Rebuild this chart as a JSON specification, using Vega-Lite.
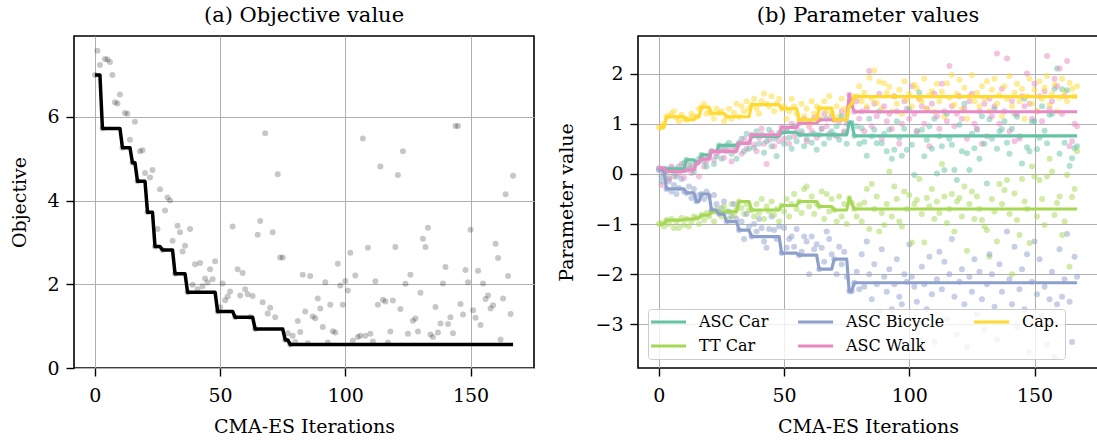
{
  "$schema": "https://vega.github.io/schema/vega-lite/v6.json",
  "padding": {"left": 9, "top": 4, "right": 0, "bottom": 0},
  "spacing": 104,
  "bounds": "flush",
  "config": {
    "font": "DejaVu Serif",
    "view": {"stroke": "black", "strokeWidth": 1.6},
    "style": {"guide-label": {"font": "DejaVu Serif"}, "guide-title": {"font": "DejaVu Serif"}},
    "axis": {"grid": true, "gridColor": "#b0b0b0", "gridWidth": 1, "domain": false, "tickColor": "black", "tickSize": 8, "tickWidth": 1.4, "labelFont": "DejaVu Serif", "labelFontSize": 19, "labelColor": "black", "labelPadding": 7, "labelFlush": false, "titleFont": "DejaVu Serif", "titleFontSize": 19, "titleFontWeight": "normal", "titleColor": "black"},
    "axisX": {"labelPadding": 10},
    "legend": {"labelFont": "DejaVu Serif", "titleFont": "DejaVu Serif"},
    "title": {"font": "DejaVu Serif", "fontSize": 21, "fontWeight": "normal", "color": "black", "offset": 10}
  },
  "datasets": {
    "pts": [
{"i":0,"obj":7.00,"car":0.10,"tt":-1.00,"bic":0.08,"walk":0.12,"cap":0.93},
{"i":1,"obj":7.58,"car":-0.15,"tt":-0.98,"bic":-0.05,"walk":-0.22,"cap":0.92},
{"i":2,"obj":7.24,"car":0.00,"tt":-1.05,"bic":0.10,"walk":0.05,"cap":1.00},
{"i":3,"obj":5.72,"car":0.10,"tt":-0.92,"bic":-0.30,"walk":0.05,"cap":1.14},
{"i":4,"obj":7.38,"car":-0.08,"tt":-1.00,"bic":-0.15,"walk":-0.10,"cap":1.15},
{"i":5,"obj":7.37,"car":0.12,"tt":-0.90,"bic":-0.35,"walk":0.15,"cap":1.20},
{"i":6,"obj":7.31,"car":0.02,"tt":-1.08,"bic":-0.22,"walk":-0.05,"cap":1.25},
{"i":7,"obj":7.00,"car":-0.05,"tt":-0.95,"bic":-0.40,"walk":0.10,"cap":1.12},
{"i":8,"obj":6.35,"car":0.15,"tt":-1.08,"bic":-0.28,"walk":0.00,"cap":1.05},
{"i":9,"obj":6.32,"car":0.08,"tt":-0.88,"bic":-0.10,"walk":0.20,"cap":1.18},
{"i":10,"obj":6.53,"car":0.22,"tt":-1.02,"bic":-0.35,"walk":-0.08,"cap":1.10},
{"i":11,"obj":5.26,"car":0.28,"tt":-0.90,"bic":-0.38,"walk":0.08,"cap":1.08},
{"i":12,"obj":6.09,"car":0.10,"tt":-1.05,"bic":-0.25,"walk":0.18,"cap":1.10},
{"i":13,"obj":6.07,"car":0.18,"tt":-0.95,"bic":-0.48,"walk":0.02,"cap":1.20},
{"i":14,"obj":5.45,"car":0.05,"tt":-0.85,"bic":-0.30,"walk":0.12,"cap":1.15},
{"i":15,"obj":4.90,"car":0.22,"tt":-0.88,"bic":-0.55,"walk":0.22,"cap":1.14},
{"i":16,"obj":5.88,"car":0.30,"tt":-1.00,"bic":-0.42,"walk":-0.05,"cap":1.30},
{"i":17,"obj":4.46,"car":0.38,"tt":-0.82,"bic":-0.40,"walk":0.30,"cap":1.33},
{"i":18,"obj":5.18,"car":0.25,"tt":-0.92,"bic":-0.50,"walk":0.15,"cap":1.40},
{"i":19,"obj":5.20,"car":0.15,"tt":-0.78,"bic":-0.35,"walk":0.25,"cap":1.20},
{"i":20,"obj":4.66,"car":0.32,"tt":-0.85,"bic":-0.45,"walk":0.35,"cap":1.25},
{"i":21,"obj":3.72,"car":0.45,"tt":-0.76,"bic":-0.72,"walk":0.45,"cap":1.21},
{"i":22,"obj":4.55,"car":0.20,"tt":-0.95,"bic":-0.42,"walk":0.28,"cap":1.10},
{"i":23,"obj":4.73,"car":0.35,"tt":-0.70,"bic":-0.60,"walk":0.40,"cap":1.30},
{"i":24,"obj":2.90,"car":0.57,"tt":-0.76,"bic":-0.80,"walk":0.45,"cap":1.21},
{"i":25,"obj":3.32,"car":0.30,"tt":-0.85,"bic":-0.68,"walk":0.48,"cap":1.25},
{"i":26,"obj":4.27,"car":0.48,"tt":-0.65,"bic":-0.55,"walk":0.32,"cap":1.05},
{"i":27,"obj":2.82,"car":0.57,"tt":-0.75,"bic":-0.95,"walk":0.45,"cap":1.14},
{"i":28,"obj":3.76,"car":0.62,"tt":-0.90,"bic":-0.75,"walk":0.52,"cap":1.30},
{"i":29,"obj":4.07,"car":0.40,"tt":-0.60,"bic":-0.85,"walk":0.25,"cap":1.10},
{"i":30,"obj":4.00,"car":0.55,"tt":-0.82,"bic":-0.60,"walk":0.45,"cap":1.22},
{"i":31,"obj":3.04,"car":0.30,"tt":-0.70,"bic":-0.90,"walk":0.55,"cap":1.40},
{"i":32,"obj":2.25,"car":0.61,"tt":-0.55,"bic":-1.12,"walk":0.61,"cap":1.14},
{"i":33,"obj":3.40,"car":0.70,"tt":-0.68,"bic":-0.95,"walk":0.40,"cap":1.35},
{"i":34,"obj":3.24,"car":0.45,"tt":-0.80,"bic":-1.30,"walk":0.70,"cap":1.25},
{"i":35,"obj":2.78,"car":0.80,"tt":-0.60,"bic":-0.80,"walk":0.50,"cap":1.45},
{"i":36,"obj":2.92,"car":0.50,"tt":-0.72,"bic":-1.05,"walk":0.62,"cap":1.30},
{"i":37,"obj":1.81,"car":0.75,"tt":-0.72,"bic":-1.25,"walk":0.78,"cap":1.38},
{"i":38,"obj":3.32,"car":0.52,"tt":-0.85,"bic":-1.00,"walk":0.58,"cap":1.50},
{"i":39,"obj":1.99,"car":0.85,"tt":-0.60,"bic":-1.15,"walk":0.45,"cap":1.30},
{"i":40,"obj":2.48,"car":0.60,"tt":-0.78,"bic":-0.90,"walk":0.72,"cap":1.20},
{"i":41,"obj":1.88,"car":0.78,"tt":-0.50,"bic":-1.08,"walk":0.90,"cap":1.45},
{"i":42,"obj":2.51,"car":0.42,"tt":-0.90,"bic":-1.35,"walk":0.60,"cap":1.60},
{"i":43,"obj":1.95,"car":0.65,"tt":-0.65,"bic":-1.47,"walk":0.20,"cap":1.40},
{"i":44,"obj":2.14,"car":0.88,"tt":-0.75,"bic":-1.10,"walk":0.68,"cap":1.35},
{"i":45,"obj":2.04,"car":0.55,"tt":-0.55,"bic":-0.85,"walk":0.82,"cap":1.55},
{"i":46,"obj":2.36,"car":0.70,"tt":-0.82,"bic":-1.12,"walk":0.55,"cap":1.25},
{"i":47,"obj":2.12,"car":0.35,"tt":-0.70,"bic":-1.30,"walk":0.75,"cap":1.40},
{"i":48,"obj":2.55,"car":0.82,"tt":-0.95,"bic":-1.05,"walk":0.65,"cap":1.50},
{"i":49,"obj":1.35,"car":0.83,"tt":-0.63,"bic":-1.58,"walk":0.93,"cap":1.30},
{"i":50,"obj":1.45,"car":0.60,"tt":-0.75,"bic":-1.08,"walk":0.70,"cap":1.35},
{"i":51,"obj":2.02,"car":0.90,"tt":-0.50,"bic":-1.47,"walk":0.85,"cap":1.10},
{"i":52,"obj":1.62,"car":0.72,"tt":-0.85,"bic":-1.30,"walk":0.60,"cap":1.25},
{"i":53,"obj":1.71,"car":0.50,"tt":-0.60,"bic":-1.25,"walk":1.00,"cap":1.50},
{"i":54,"obj":1.83,"car":0.95,"tt":-0.40,"bic":-1.45,"walk":0.75,"cap":1.35},
{"i":55,"obj":3.38,"car":0.65,"tt":-0.70,"bic":-1.10,"walk":0.90,"cap":1.20},
{"i":56,"obj":1.21,"car":0.78,"tt":-0.55,"bic":-1.62,"walk":1.01,"cap":1.08},
{"i":57,"obj":2.36,"car":0.85,"tt":-0.78,"bic":-1.55,"walk":0.80,"cap":1.40},
{"i":58,"obj":1.73,"car":0.55,"tt":-0.30,"bic":-1.25,"walk":1.10,"cap":1.15},
{"i":59,"obj":2.27,"car":0.70,"tt":-0.25,"bic":-1.35,"walk":0.65,"cap":1.30},
{"i":60,"obj":1.88,"car":1.05,"tt":-0.65,"bic":-2.00,"walk":0.95,"cap":1.00},
{"i":61,"obj":1.76,"car":0.62,"tt":-0.45,"bic":-1.25,"walk":0.85,"cap":1.45},
{"i":62,"obj":1.22,"car":0.80,"tt":-0.80,"bic":-1.50,"walk":1.12,"cap":1.20},
{"i":63,"obj":1.72,"car":0.48,"tt":-0.60,"bic":-1.40,"walk":0.72,"cap":1.35},
{"i":64,"obj":0.93,"car":0.78,"tt":-0.65,"bic":-1.90,"walk":1.08,"cap":1.31},
{"i":65,"obj":3.18,"car":0.90,"tt":-0.35,"bic":-1.47,"walk":0.90,"cap":1.10},
{"i":66,"obj":3.51,"car":0.60,"tt":-0.90,"bic":-1.75,"walk":1.20,"cap":1.45},
{"i":67,"obj":1.57,"car":1.10,"tt":-0.40,"bic":-1.15,"walk":0.95,"cap":1.25},
{"i":68,"obj":5.61,"car":0.72,"tt":-0.75,"bic":-1.30,"walk":0.80,"cap":1.55},
{"i":69,"obj":1.30,"car":0.85,"tt":-0.50,"bic":-1.60,"walk":1.15,"cap":1.20},
{"i":70,"obj":1.44,"car":0.78,"tt":-0.72,"bic":-1.70,"walk":1.08,"cap":1.08},
{"i":71,"obj":3.24,"car":0.95,"tt":-0.95,"bic":-2.00,"walk":0.75,"cap":1.35},
{"i":72,"obj":1.21,"car":0.68,"tt":-0.45,"bic":-1.45,"walk":1.05,"cap":1.15},
{"i":73,"obj":4.63,"car":1.15,"tt":-0.85,"bic":-1.80,"walk":1.25,"cap":1.50},
{"i":74,"obj":2.64,"car":0.82,"tt":-0.60,"bic":-1.55,"walk":0.85,"cap":1.30},
{"i":75,"obj":2.64,"car":0.60,"tt":-1.00,"bic":-2.05,"walk":1.00,"cap":1.20},
{"i":76,"obj":0.67,"car":1.02,"tt":-0.48,"bic":-2.34,"walk":1.58,"cap":1.35},
{"i":77,"obj":0.83,"car":1.02,"tt":-0.58,"bic":-2.34,"walk":1.38,"cap":1.40},
{"i":78,"obj":0.56,"car":0.76,"tt":-0.70,"bic":-2.17,"walk":1.24,"cap":1.54},
{"i":79,"obj":0.77,"car":0.95,"tt":-0.85,"bic":-1.95,"walk":1.45,"cap":1.55},
{"i":80,"obj":0.62,"car":0.60,"tt":-0.62,"bic":-2.30,"walk":1.10,"cap":1.75},
{"i":81,"obj":1.12,"car":0.91,"tt":-0.95,"bic":-1.60,"walk":1.25,"cap":1.45},
{"i":82,"obj":0.86,"car":0.64,"tt":-0.57,"bic":-2.25,"walk":0.85,"cap":1.62},
{"i":83,"obj":2.23,"car":0.36,"tt":-0.30,"bic":-1.35,"walk":1.30,"cap":1.35},
{"i":84,"obj":1.35,"car":1.10,"tt":-1.10,"bic":-2.00,"walk":2.05,"cap":1.92},
{"i":85,"obj":0.59,"car":0.75,"tt":-0.20,"bic":-2.50,"walk":0.95,"cap":1.50},
{"i":86,"obj":2.20,"car":0.88,"tt":-0.70,"bic":-1.80,"walk":1.40,"cap":2.06},
{"i":87,"obj":1.23,"car":0.61,"tt":-0.45,"bic":-2.20,"walk":1.15,"cap":1.42},
{"i":88,"obj":1.19,"car":1.25,"tt":-1.15,"bic":-2.75,"walk":1.60,"cap":1.84},
{"i":89,"obj":1.66,"car":0.61,"tt":-0.78,"bic":-1.50,"walk":0.70,"cap":1.30},
{"i":90,"obj":1.42,"car":0.80,"tt":-1.02,"bic":-2.05,"walk":1.35,"cap":1.81},
{"i":91,"obj":0.98,"car":0.45,"tt":-0.60,"bic":-2.35,"walk":1.05,"cap":1.62},
{"i":92,"obj":2.05,"car":0.88,"tt":0.05,"bic":-1.90,"walk":1.20,"cap":1.74},
{"i":93,"obj":0.61,"car":0.30,"tt":-0.85,"bic":-2.70,"walk":0.90,"cap":1.25},
{"i":94,"obj":1.51,"car":0.48,"tt":-0.25,"bic":-2.20,"walk":1.55,"cap":1.55},
{"i":95,"obj":0.88,"car":1.05,"tt":-0.50,"bic":-1.70,"walk":1.25,"cap":1.40},
{"i":96,"obj":0.85,"car":0.72,"tt":-0.95,"bic":-2.45,"walk":0.60,"cap":1.68},
{"i":97,"obj":2.49,"car":0.36,"tt":-1.05,"bic":-2.60,"walk":1.00,"cap":1.20},
{"i":98,"obj":1.97,"car":0.90,"tt":-0.35,"bic":-2.00,"walk":1.45,"cap":1.85},
{"i":99,"obj":1.51,"car":0.48,"tt":-0.70,"bic":-2.15,"walk":1.30,"cap":1.47},
{"i":100,"obj":2.08,"car":1.30,"tt":-0.42,"bic":-1.40,"walk":1.10,"cap":1.60},
{"i":101,"obj":1.85,"car":0.58,"tt":-1.37,"bic":-2.05,"walk":1.75,"cap":1.35},
{"i":102,"obj":2.75,"car":-0.02,"tt":-0.60,"bic":-2.25,"walk":1.20,"cap":1.78},
{"i":103,"obj":0.65,"car":0.85,"tt":-0.52,"bic":-2.55,"walk":0.85,"cap":1.71},
{"i":104,"obj":2.21,"car":1.62,"tt":-0.10,"bic":-3.00,"walk":1.50,"cap":1.50},
{"i":105,"obj":0.74,"car":0.88,"tt":-0.80,"bic":-1.85,"walk":1.35,"cap":1.44},
{"i":106,"obj":0.77,"car":0.35,"tt":-1.37,"bic":-2.20,"walk":1.00,"cap":1.90},
{"i":107,"obj":5.48,"car":0.68,"tt":-0.48,"bic":-2.70,"walk":1.30,"cap":1.30},
{"i":108,"obj":0.77,"car":0.95,"tt":-0.65,"bic":-1.65,"walk":0.55,"cap":1.57},
{"i":109,"obj":2.87,"car":0.50,"tt":-0.30,"bic":-2.40,"walk":1.40,"cap":1.65},
{"i":110,"obj":0.82,"car":1.10,"tt":-0.90,"bic":-3.35,"walk":1.60,"cap":1.24},
{"i":111,"obj":0.63,"car":0.01,"tt":-0.55,"bic":-2.10,"walk":1.15,"cap":1.80},
{"i":112,"obj":2.07,"car":0.75,"tt":-0.78,"bic":-1.55,"walk":0.90,"cap":1.45},
{"i":113,"obj":1.51,"car":0.55,"tt":0.20,"bic":-2.30,"walk":1.80,"cap":1.64},
{"i":114,"obj":4.81,"car":0.08,"tt":-0.45,"bic":-1.75,"walk":1.25,"cap":1.14},
{"i":115,"obj":1.63,"car":1.20,"tt":-0.98,"bic":-2.90,"walk":1.05,"cap":1.81},
{"i":116,"obj":1.59,"car":0.70,"tt":-0.70,"bic":-2.00,"walk":2.15,"cap":1.52},
{"i":117,"obj":0.61,"car":0.58,"tt":-0.40,"bic":-1.30,"walk":1.35,"cap":1.97},
{"i":118,"obj":0.87,"car":0.08,"tt":-1.15,"bic":-2.45,"walk":0.95,"cap":1.38},
{"i":119,"obj":1.61,"car":-0.12,"tt":-0.55,"bic":-3.20,"walk":1.20,"cap":1.60},
{"i":120,"obj":2.89,"car":0.98,"tt":-0.48,"bic":-2.15,"walk":1.55,"cap":1.88},
{"i":121,"obj":4.61,"car":0.45,"tt":-0.85,"bic":-1.90,"walk":1.10,"cap":1.30},
{"i":122,"obj":1.41,"car":1.40,"tt":-0.25,"bic":-2.60,"walk":1.30,"cap":1.72},
{"i":123,"obj":5.18,"car":0.41,"tt":-1.53,"bic":-3.45,"walk":0.70,"cap":1.10},
{"i":124,"obj":2.01,"car":0.08,"tt":-0.60,"bic":-2.05,"walk":1.45,"cap":1.55},
{"i":125,"obj":0.82,"car":0.80,"tt":-0.35,"bic":-2.35,"walk":1.60,"cap":1.97},
{"i":126,"obj":2.23,"car":0.51,"tt":-0.90,"bic":-1.70,"walk":1.00,"cap":1.45},
{"i":127,"obj":1.13,"car":0.88,"tt":-0.45,"bic":-2.80,"walk":0.90,"cap":1.62},
{"i":128,"obj":1.18,"car":0.30,"tt":-0.70,"bic":-1.95,"walk":1.25,"cap":1.35},
{"i":129,"obj":0.87,"car":1.15,"tt":-0.92,"bic":-2.50,"walk":0.60,"cap":1.75},
{"i":130,"obj":1.80,"car":0.60,"tt":-1.05,"bic":-3.10,"walk":1.40,"cap":1.50},
{"i":131,"obj":3.09,"car":-0.19,"tt":-1.12,"bic":-2.20,"walk":0.75,"cap":1.85},
{"i":132,"obj":2.89,"car":1.09,"tt":-1.65,"bic":-1.60,"walk":1.50,"cap":1.25},
{"i":133,"obj":3.35,"car":0.70,"tt":-0.50,"bic":-2.00,"walk":1.15,"cap":1.68},
{"i":134,"obj":0.80,"car":1.30,"tt":-0.75,"bic":-2.65,"walk":1.35,"cap":1.90},
{"i":135,"obj":0.74,"car":0.50,"tt":-1.35,"bic":-3.30,"walk":2.40,"cap":1.40},
{"i":136,"obj":1.46,"car":0.85,"tt":-0.20,"bic":-1.80,"walk":1.00,"cap":1.58},
{"i":137,"obj":0.85,"car":0.89,"tt":-0.60,"bic":-2.35,"walk":1.70,"cap":1.15},
{"i":138,"obj":1.06,"car":1.05,"tt":-0.32,"bic":-2.95,"walk":1.25,"cap":1.75},
{"i":139,"obj":2.02,"car":0.62,"tt":-0.12,"bic":-1.15,"walk":2.30,"cap":1.50},
{"i":140,"obj":2.41,"car":0.40,"tt":-0.80,"bic":-2.10,"walk":0.85,"cap":1.95},
{"i":141,"obj":1.05,"car":0.90,"tt":-2.00,"bic":-2.60,"walk":1.45,"cap":1.35},
{"i":142,"obj":1.21,"car":1.20,"tt":-0.39,"bic":-1.45,"walk":0.65,"cap":1.62},
{"i":143,"obj":0.83,"car":1.14,"tt":-0.92,"bic":-3.05,"walk":1.20,"cap":1.80},
{"i":144,"obj":5.78,"car":0.75,"tt":-1.22,"bic":-2.30,"walk":0.70,"cap":1.45},
{"i":145,"obj":5.78,"car":0.21,"tt":-0.10,"bic":-1.90,"walk":1.55,"cap":1.70},
{"i":146,"obj":1.53,"car":1.50,"tt":-0.55,"bic":-2.70,"walk":1.35,"cap":1.10},
{"i":147,"obj":1.28,"car":0.53,"tt":-0.70,"bic":-1.60,"walk":2.00,"cap":1.55},
{"i":148,"obj":2.34,"car":0.45,"tt":-1.38,"bic":-3.55,"walk":1.40,"cap":1.90},
{"i":149,"obj":2.05,"car":1.04,"tt":0.15,"bic":-2.15,"walk":1.10,"cap":1.40},
{"i":150,"obj":3.30,"car":1.05,"tt":-0.05,"bic":-1.35,"walk":1.80,"cap":1.68},
{"i":151,"obj":1.38,"car":0.49,"tt":-0.85,"bic":-2.40,"walk":1.25,"cap":1.25},
{"i":152,"obj":1.20,"car":0.72,"tt":-0.12,"bic":-1.70,"walk":1.55,"cap":1.85},
{"i":153,"obj":2.32,"car":1.35,"tt":-0.50,"bic":-2.85,"walk":1.05,"cap":1.50},
{"i":154,"obj":1.03,"car":0.86,"tt":-1.02,"bic":-2.25,"walk":1.65,"cap":1.72},
{"i":155,"obj":2.02,"car":0.61,"tt":-0.05,"bic":-3.40,"walk":2.35,"cap":1.95},
{"i":156,"obj":1.65,"car":1.18,"tt":0.30,"bic":-2.50,"walk":1.30,"cap":1.38},
{"i":157,"obj":1.73,"car":1.20,"tt":0.05,"bic":-1.95,"walk":1.45,"cap":1.60},
{"i":158,"obj":1.42,"car":1.70,"tt":-0.82,"bic":-3.65,"walk":1.90,"cap":1.78},
{"i":159,"obj":1.50,"car":2.10,"tt":-0.58,"bic":-2.60,"walk":1.75,"cap":1.25},
{"i":160,"obj":2.97,"car":0.40,"tt":-0.45,"bic":-1.50,"walk":2.10,"cap":1.52},
{"i":161,"obj":2.63,"car":1.69,"tt":-1.22,"bic":-2.45,"walk":1.20,"cap":1.90},
{"i":162,"obj":0.68,"car":0.62,"tt":-0.95,"bic":-2.10,"walk":1.55,"cap":1.65},
{"i":163,"obj":1.66,"car":1.67,"tt":-0.02,"bic":-1.20,"walk":2.25,"cap":1.45},
{"i":164,"obj":4.15,"car":0.16,"tt":-1.85,"bic":-2.55,"walk":0.55,"cap":1.82},
{"i":165,"obj":2.20,"car":0.31,"tt":-0.46,"bic":-3.35,"walk":0.65,"cap":1.70},
{"i":166,"obj":1.29,"car":0.51,"tt":-0.30,"bic":-1.65,"walk":1.00,"cap":1.55},
{"i":167,"obj":4.59,"car":0.55,"tt":0.45,"bic":-2.05,"walk":0.95,"cap":1.75}
    ],
    "best": [
{"i":0,"obj":7.00,"car":0.10,"tt":-1.00,"bic":0.08,"walk":0.12,"cap":0.93},
{"i":2,"obj":7.00,"car":0.10,"tt":-1.00,"bic":0.08,"walk":0.12,"cap":0.93},
{"i":3,"obj":5.72,"car":0.10,"tt":-0.92,"bic":-0.30,"walk":0.05,"cap":1.14},
{"i":10,"obj":5.72,"car":0.10,"tt":-0.92,"bic":-0.30,"walk":0.05,"cap":1.14},
{"i":11,"obj":5.26,"car":0.28,"tt":-0.90,"bic":-0.38,"walk":0.08,"cap":1.08},
{"i":14,"obj":5.26,"car":0.28,"tt":-0.90,"bic":-0.38,"walk":0.08,"cap":1.08},
{"i":15,"obj":4.90,"car":0.22,"tt":-0.88,"bic":-0.55,"walk":0.22,"cap":1.14},
{"i":16,"obj":4.90,"car":0.22,"tt":-0.88,"bic":-0.55,"walk":0.22,"cap":1.14},
{"i":17,"obj":4.46,"car":0.38,"tt":-0.82,"bic":-0.40,"walk":0.30,"cap":1.33},
{"i":20,"obj":4.46,"car":0.38,"tt":-0.82,"bic":-0.40,"walk":0.30,"cap":1.33},
{"i":21,"obj":3.72,"car":0.45,"tt":-0.76,"bic":-0.72,"walk":0.45,"cap":1.21},
{"i":23,"obj":3.72,"car":0.45,"tt":-0.76,"bic":-0.72,"walk":0.45,"cap":1.21},
{"i":24,"obj":2.90,"car":0.57,"tt":-0.76,"bic":-0.80,"walk":0.45,"cap":1.21},
{"i":26,"obj":2.90,"car":0.57,"tt":-0.76,"bic":-0.80,"walk":0.45,"cap":1.21},
{"i":27,"obj":2.82,"car":0.57,"tt":-0.75,"bic":-0.95,"walk":0.45,"cap":1.14},
{"i":31,"obj":2.82,"car":0.57,"tt":-0.75,"bic":-0.95,"walk":0.45,"cap":1.14},
{"i":32,"obj":2.25,"car":0.61,"tt":-0.55,"bic":-1.12,"walk":0.61,"cap":1.14},
{"i":36,"obj":2.25,"car":0.61,"tt":-0.55,"bic":-1.12,"walk":0.61,"cap":1.14},
{"i":37,"obj":1.81,"car":0.75,"tt":-0.72,"bic":-1.25,"walk":0.78,"cap":1.38},
{"i":48,"obj":1.81,"car":0.75,"tt":-0.72,"bic":-1.25,"walk":0.78,"cap":1.38},
{"i":49,"obj":1.35,"car":0.83,"tt":-0.63,"bic":-1.58,"walk":0.93,"cap":1.30},
{"i":55,"obj":1.35,"car":0.83,"tt":-0.63,"bic":-1.58,"walk":0.93,"cap":1.30},
{"i":56,"obj":1.21,"car":0.78,"tt":-0.55,"bic":-1.62,"walk":1.01,"cap":1.08},
{"i":63,"obj":1.21,"car":0.78,"tt":-0.55,"bic":-1.62,"walk":1.01,"cap":1.08},
{"i":64,"obj":0.93,"car":0.78,"tt":-0.65,"bic":-1.90,"walk":1.08,"cap":1.31},
{"i":69,"obj":0.93,"car":0.78,"tt":-0.65,"bic":-1.90,"walk":1.08,"cap":1.31},
{"i":70,"obj":0.93,"car":0.78,"tt":-0.72,"bic":-1.70,"walk":1.08,"cap":1.08},
{"i":75,"obj":0.93,"car":0.78,"tt":-0.72,"bic":-1.70,"walk":1.08,"cap":1.08},
{"i":76,"obj":0.67,"car":1.02,"tt":-0.48,"bic":-2.34,"walk":1.58,"cap":1.35},
{"i":77,"obj":0.67,"car":1.02,"tt":-0.58,"bic":-2.34,"walk":1.38,"cap":1.40},
{"i":78,"obj":0.56,"car":0.76,"tt":-0.70,"bic":-2.17,"walk":1.24,"cap":1.54},
{"i":167,"obj":0.56,"car":0.76,"tt":-0.70,"bic":-2.17,"walk":1.24,"cap":1.54}
    ]
  },
  "hconcat": [
    {
      "width": 460,
      "height": 332,
      "title": {"text": "(a) Objective value"},
      "layer": [
        {
          "data": {"name": "pts"},
          "mark": {"type": "circle", "color": "black", "opacity": 0.22, "size": 36},
          "encoding": {
            "x": {"field": "i", "type": "quantitative", "scale": {"domain": [-8.35, 175.35], "nice": false, "zero": false}, "axis": {"values": [0, 50, 100, 150], "title": "CMA-ES Iterations", "titleX": 230, "titleY": 58.5, "titleBaseline": "middle"}},
            "y": {"field": "obj", "type": "quantitative", "scale": {"domain": [0, 7.93], "nice": false}, "axis": {"values": [0, 2, 4, 6], "title": "Objective", "titleX": -55, "titleY": 166, "titleBaseline": "middle"}}
          }
        },
        {
          "data": {"name": "best"},
          "mark": {"type": "line", "color": "black", "strokeWidth": 3.5, "strokeJoin": "round"},
          "encoding": {
            "x": {"field": "i", "type": "quantitative"},
            "y": {"field": "obj", "type": "quantitative"}
          }
        }
      ]
    },
    {
      "width": 460,
      "height": 332,
      "title": {"text": "(b) Parameter values"},
      "resolve": {"scale": {"color": "independent"}},
      "layer": [
        {
          "data": {"name": "pts"},
          "transform": [{"fold": ["car", "tt", "bic", "walk", "cap"], "as": ["param", "value"]}],
          "mark": {"type": "circle", "opacity": 0.5, "size": 36},
          "encoding": {
            "x": {"field": "i", "type": "quantitative", "scale": {"domain": [-8.35, 175.35], "nice": false, "zero": false}, "axis": {"values": [0, 50, 100, 150], "title": "CMA-ES Iterations", "titleX": 230, "titleY": 58.5, "titleBaseline": "middle"}},
            "y": {"field": "value", "type": "quantitative", "scale": {"domain": [-3.87, 2.75], "nice": false, "zero": false}, "axis": {"values": [-3, -2, -1, 0, 1, 2], "title": "Parameter value", "titleX": -72, "titleY": 166, "titleBaseline": "middle"}},
            "color": {"field": "param", "type": "nominal", "scale": {"domain": ["car", "tt", "bic", "walk", "cap"], "range": ["#66c2a5", "#a6d854", "#8da0cb", "#e78ac3", "#ffd92f"]}, "legend": null}
          }
        },
        {
          "data": {"name": "best"},
          "transform": [{"fold": ["car", "tt", "bic", "walk", "cap"], "as": ["param", "value"]}],
          "mark": {"type": "line", "strokeWidth": 3.2, "strokeJoin": "round"},
          "encoding": {
            "x": {"field": "i", "type": "quantitative"},
            "y": {"field": "value", "type": "quantitative"},
            "color": {
              "field": "param", "type": "nominal",
              "scale": {"domain": ["car", "tt", "bic", "walk", "cap"], "range": ["#66c2a5", "#a6d854", "#8da0cb", "#e78ac3", "#ffd92f"]},
              "legend": {
                "orient": "none", "legendX": 10, "legendY": 273, "columns": 3, "title": null,
                "labelExpr": "{'car': 'ASC Car', 'bic': 'ASC Bicycle', 'cap': 'Cap.', 'tt': 'TT Car', 'walk': 'ASC Walk'}[datum.label]",
                "symbolType": "M-1.7,0H4.3", "symbolSize": 136, "symbolStrokeWidth": 3.2,
                "labelFont": "DejaVu Serif", "labelFontSize": 16, "labelColor": "black", "labelOffset": 30,
                "columnPadding": 22, "rowPadding": 8, "padding": 5,
                "fillColor": "rgba(255,255,255,0.8)", "strokeColor": "#cccccc", "cornerRadius": 3
              }
            }
          }
        }
      ]
    }
  ]
}
